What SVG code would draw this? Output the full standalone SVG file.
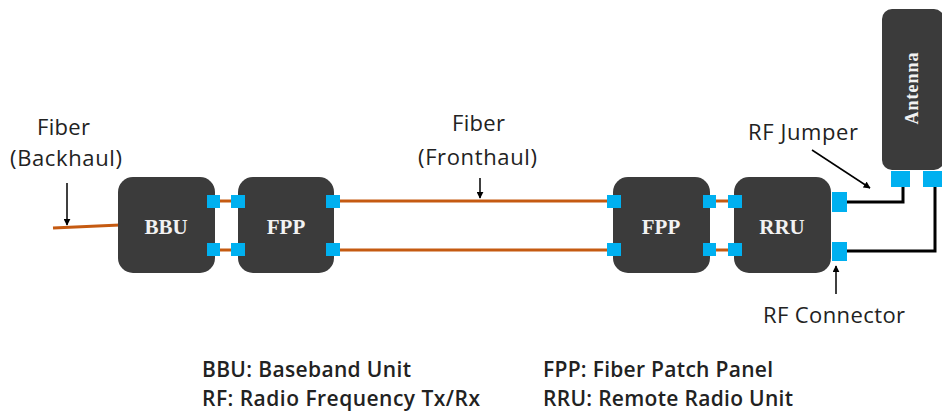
<svg xmlns="http://www.w3.org/2000/svg" width="942" height="412" viewBox="0 0 942 412">
<style>
.box{fill:#3b3b3b}
.port{fill:#00b0f0}
.nl{font-family:"Liberation Serif","DejaVu Serif",serif;font-size:21px;font-weight:bold;fill:#f2f2f2;text-anchor:middle}
.lbl{font-family:"Open Sans","Noto Sans",sans-serif;font-size:22px;fill:#222}
.leg{font-family:"Open Sans","Noto Sans",sans-serif;font-size:21px;font-weight:600;fill:#222}
.fib{stroke:#c55a11;stroke-width:3;fill:none}
.rf{stroke:#000;stroke-width:3;fill:none}
.ar{stroke:#000;stroke-width:1.5;fill:none;marker-end:url(#ah)}
</style>
<defs>
<marker id="ah" viewBox="0 0 10 10" refX="9" refY="5" markerWidth="7" markerHeight="7" markerUnits="userSpaceOnUse" orient="auto"><path d="M0,0 L10,5 L0,10 z" fill="#000"/></marker>
</defs>
<rect width="942" height="412" fill="#fff"/>
<g id="connectors">
<line class="fib" x1="53" y1="228" x2="120" y2="225"/>
<line class="fib" x1="218" y1="201" x2="233" y2="201"/>
<line class="fib" x1="218" y1="250" x2="233" y2="250"/>
<line class="fib" x1="338" y1="201" x2="609" y2="201"/>
<line class="fib" x1="338" y1="250" x2="609" y2="250"/>
<line class="fib" x1="713" y1="201" x2="730" y2="201"/>
<line class="fib" x1="713" y1="250" x2="730" y2="250"/>
<polyline class="rf" points="846,202 903,202 903,186"/>
<polyline class="rf" points="846,251 935,251 935,186"/>
<line class="ar" x1="67" y1="183" x2="67" y2="225"/>
<line class="ar" x1="480" y1="178" x2="480" y2="198"/>
<line class="ar" x1="812" y1="150" x2="870" y2="188"/>
<line class="ar" x1="836" y1="294" x2="836" y2="266"/>
</g>
<g id="bbu">
<rect class="box" x="118" y="177" width="97" height="96" rx="15"/>
<text class="nl" x="166" y="234">BBU</text>
<rect class="port" x="207" y="195" width="13" height="13"/>
<rect class="port" x="207" y="243" width="13" height="13"/>
</g>
<g id="fpp1">
<rect class="box" x="238" y="177" width="96" height="96" rx="15"/>
<text class="nl" x="286" y="234">FPP</text>
<rect class="port" x="231" y="195" width="14" height="13"/>
<rect class="port" x="231" y="243" width="14" height="13"/>
<rect class="port" x="326" y="195" width="14" height="13"/>
<rect class="port" x="326" y="243" width="14" height="13"/>
</g>
<g id="fpp2">
<rect class="box" x="613" y="177" width="97" height="96" rx="15"/>
<text class="nl" x="661" y="234">FPP</text>
<rect class="port" x="607" y="195" width="14" height="13"/>
<rect class="port" x="607" y="243" width="14" height="13"/>
<rect class="port" x="703" y="195" width="13" height="13"/>
<rect class="port" x="703" y="243" width="13" height="13"/>
</g>
<g id="rru">
<rect class="box" x="734" y="177" width="97" height="96" rx="15"/>
<text class="nl" x="782" y="234">RRU</text>
<rect class="port" x="728" y="195" width="14" height="13"/>
<rect class="port" x="728" y="243" width="14" height="13"/>
<rect class="port" x="832" y="192" width="15" height="20"/>
<rect class="port" x="832" y="242" width="15" height="19"/>
</g>
<g id="antenna">
<rect class="box" x="882" y="9" width="62" height="161" rx="10"/>
<text class="nl" transform="translate(918,88) rotate(-90)" style="font-size:18px;letter-spacing:1px">Antenna</text>
<rect class="port" x="891" y="171" width="19" height="16"/>
<rect class="port" x="923" y="171" width="19" height="16"/>
</g>
<g id="labels">
<text class="lbl" x="37" y="135" textLength="53">Fiber</text>
<text class="lbl" x="10" y="166" textLength="112">(Backhaul)</text>
<text class="lbl" x="452" y="131" textLength="53">Fiber</text>
<text class="lbl" x="418" y="165" textLength="119">(Fronthaul)</text>
<text class="lbl" x="748" y="140" textLength="110">RF Jumper</text>
<text class="lbl" x="763" y="323" textLength="142">RF Connector</text>
<text class="leg" x="202" y="377" textLength="209">BBU: Baseband Unit</text>
<text class="leg" x="202" y="406" textLength="278">RF: Radio Frequency Tx/Rx</text>
<text class="leg" x="543" y="377" textLength="230">FPP: Fiber Patch Panel</text>
<text class="leg" x="543" y="406" textLength="250">RRU: Remote Radio Unit</text>
</g>
</svg>
